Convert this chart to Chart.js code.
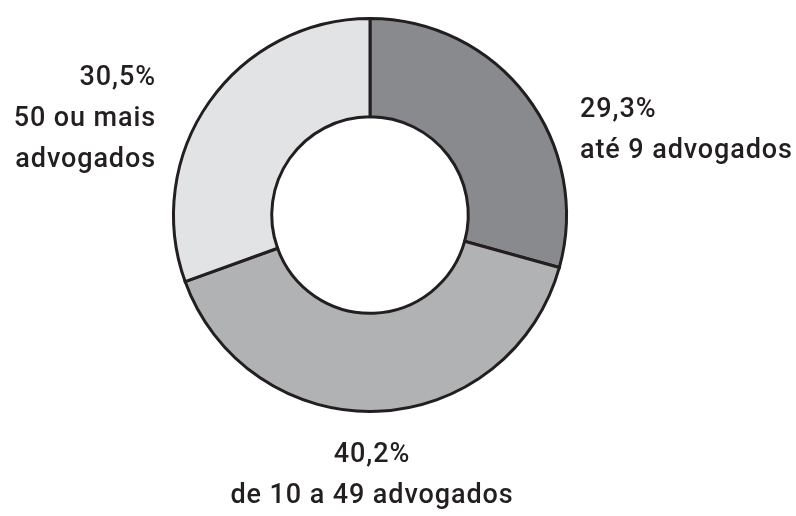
<!DOCTYPE html>
<html>
<head>
<meta charset="utf-8">
<script src="https://cdn.jsdelivr.net/npm/chart.js@4"></script>
<style>
  html, body { margin: 0; padding: 0; background: #ffffff; }
  #wrap { width: 796px; height: 516px; position: relative; }
</style>
</head>
<body>
<div id="wrap"><canvas id="c" width="796" height="516"></canvas></div>
<script>
const categories = ["até 9 advogados", "de 10 a 49 advogados", "50 ou mais advogados"];
const values = [29.3, 40.2, 30.5];
const valueLabels = ["29,3%", "40,2%", "30,5%"];
const labelLines = [["até 9 advogados"], ["de 10 a 49 advogados"], ["50 ou mais", "advogados"]];
const colors = ["#898a8d", "#b1b2b4", "#e2e3e4"];

const TEXT_COLOR = "#231f20";
const FONT = "500 27px Roboto";

// label anchors relative to doughnut center (cx, cy)
const labelPlacement = [
  { align: "left",   dx: 210, dy: -98 },
  { align: "center", dx: 2,   dy: 247 },
  { align: "right",  dx: -214, dy: -130 }
];

const outsideLabels = {
  id: "outsideLabels",
  afterDraw(chart) {
    const ctx = chart.ctx;
    const arc = chart.getDatasetMeta(0).data[0];
    const cx = arc.x, cy = arc.y;
    ctx.save();
    ctx.fillStyle = TEXT_COLOR;
    ctx.font = FONT;
    ctx.textBaseline = "alphabetic";
    if ("letterSpacing" in ctx) ctx.letterSpacing = "0.9px";
    const lh = 41;
    values.forEach((v, i) => {
      const p = labelPlacement[i];
      ctx.textAlign = p.align;
      const lines = [valueLabels[i]].concat(labelLines[i]);
      lines.forEach((t, j) => {
        ctx.fillText(t, cx + p.dx, cy + p.dy + j * lh);
      });
    });
    ctx.restore();
  }
};

new Chart(document.getElementById("c"), {
  type: "doughnut",
  data: {
    labels: categories,
    datasets: [{
      data: values,
      backgroundColor: colors,
      borderColor: "#231f20",
      borderWidth: 3,
      borderJoinStyle: "miter",
      borderAlign: "center"
    }]
  },
  options: {
    responsive: false,
    animation: false,
    cutout: "50%",
    layout: { padding: { left: 172, right: 228, top: 17, bottom: 103 } },
    plugins: {
      legend: { display: false },
      tooltip: { enabled: false }
    }
  },
  plugins: [outsideLabels]
});
</script>
</body>
</html>
